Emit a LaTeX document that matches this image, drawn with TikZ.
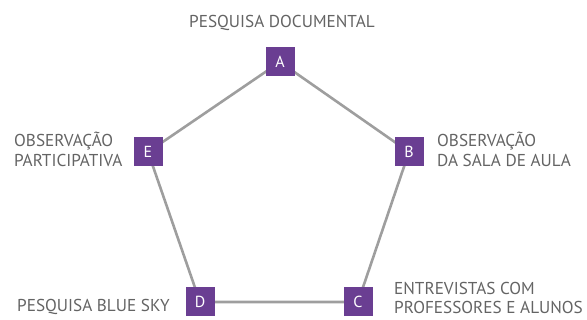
\documentclass[tikz,border=0pt]{standalone}
\usepackage{fontspec}
\setmainfont{PT Sans}
\usetikzlibrary{backgrounds}
\definecolor{boxpurple}{RGB}{106,62,146}
\definecolor{edgegray}{RGB}{158,158,158}
\definecolor{labelgray}{RGB}{100,100,100}
\begin{document}
\begin{tikzpicture}[x=1pt,y=-1pt,
  stage/.style={fill=boxpurple,minimum size=29pt,inner sep=0pt,text=white,font=\fontsize{16}{16}\selectfont},
  link/.style={draw=edgegray,line width=2.6pt},
  caption/.style={text=labelgray,font=\fontsize{17.2}{20.5}\selectfont,inner sep=0pt,align=left}]
\useasboundingbox (0,0) rectangle (587,320);
% the five stages, at the corners of a pentagon
\node[stage] (A) at (280,62) {A};
\node[stage] (B) at (409,152) {B};
\node[stage] (C) at (358,302) {C};
\node[stage] (D) at (200,302) {D};
\node[stage] (E) at (148,152) {E};
% edges of the pentagon, behind the boxes
\begin{scope}[on background layer]
\draw[link] (A.center) -- (B.center) -- (C.center) -- (D.center) -- (E.center) -- cycle;
\end{scope}
% captions (base anchor = baseline of the last line)
\node[caption,anchor=base] (tA) at (282,28) {PESQUISA DOCUMENTAL};
\node[caption,anchor=base west] (tB) at (437,167) {OBSERVAÇÃO\\DA SALA DE AULA};
\node[caption,anchor=base west,font=\fontsize{17.2}{19.5}\selectfont] (tC) at (394,314) {ENTREVISTAS COM\\PROFESSORES E ALUNOS};
\node[caption,anchor=base west] (tD) at (17,312) {PESQUISA BLUE SKY};
\node[caption,anchor=base west] (tE) at (14,167) {OBSERVAÇÃO\\PARTICIPATIVA};
\end{tikzpicture}
\end{document}
